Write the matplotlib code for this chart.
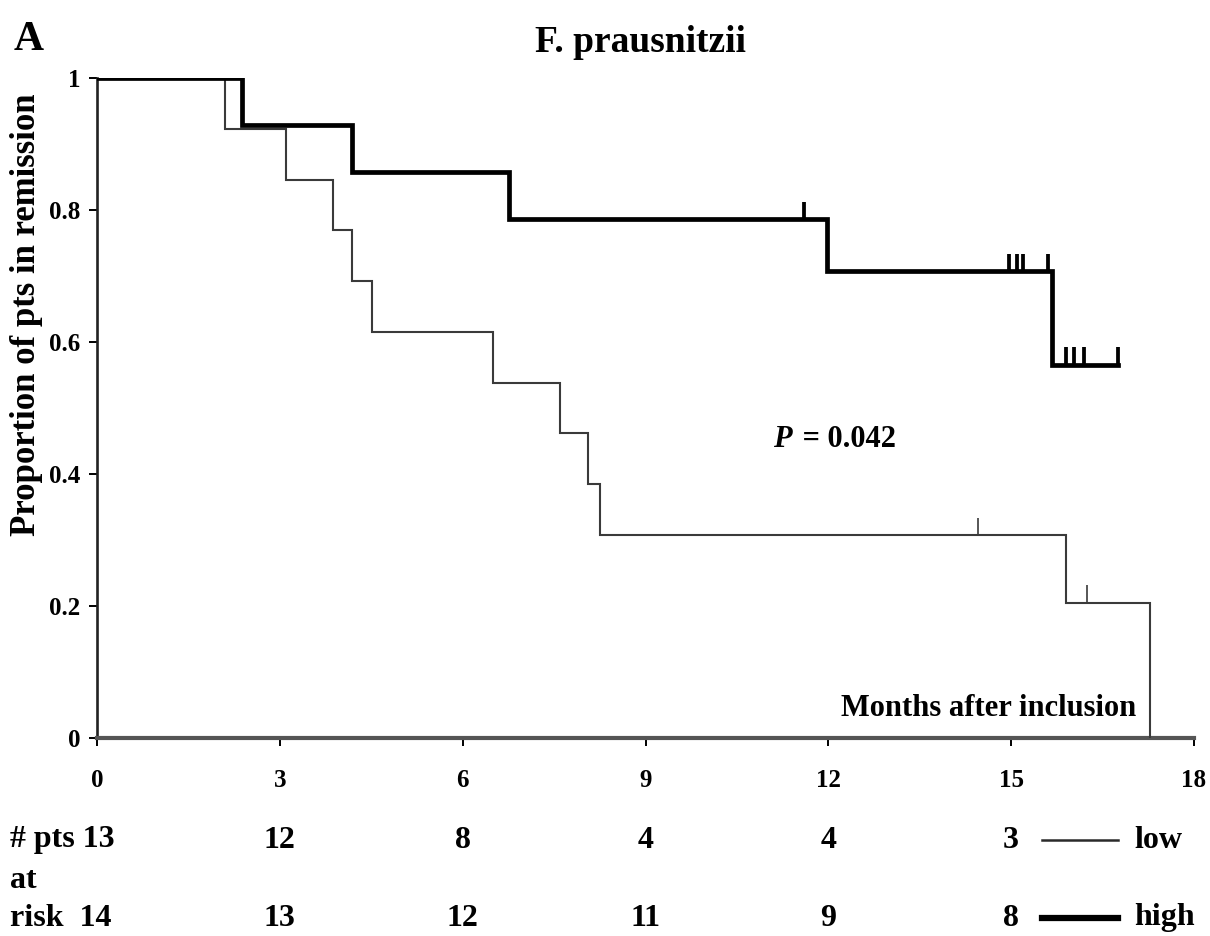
import numpy as np
import matplotlib
matplotlib.use("Agg")
import matplotlib.pyplot as plt
from matplotlib.lines import Line2D
from matplotlib.transforms import blended_transform_factory

plt.rcParams['font.family'] = ['Liberation Serif', 'DejaVu Serif']
plt.rcParams['font.weight'] = 'bold'

# Follow-up (months) and status (1 = relapse, 0 = censored)
low_times = [2.1, 3.1, 3.88, 4.19, 4.52, 6.5, 7.6, 8.06, 8.26, 14.45, 15.9, 16.25, 17.27]
low_events = [1, 1, 1, 1, 1, 1, 1, 1, 1, 0, 1, 0, 1]
high_times = [2.38, 4.19, 6.76, 11.6, 11.98, 14.97, 15.1, 15.2, 15.6, 15.67, 15.9, 16.03, 16.2, 16.76]
high_events = [1, 1, 1, 0, 1, 0, 0, 0, 0, 1, 0, 0, 0, 0]

risk_months = [0, 3, 6, 9, 12, 15]
risk_low = [13, 12, 8, 4, 4, 3]
risk_high = [14, 13, 12, 11, 9, 8]

x_ticks = [0, 3, 6, 9, 12, 15, 18]
y_ticks = [0, 0.2, 0.4, 0.6, 0.8, 1]
y_ticklabels = ['0', '0.2', '0.4', '0.6', '0.8', '1']


def kaplan_meier(times, events):
    order = np.argsort(times)
    t = np.asarray(times, float)[order]
    e = np.asarray(events, int)[order]
    n = len(t)
    s = 1.0
    step_t, step_s = [0.0], [1.0]
    cens_t, cens_s = [], []
    for i, (ti, ei) in enumerate(zip(t, e)):
        at_risk = n - i
        if ei:
            s *= (at_risk - 1) / at_risk
            step_t.append(ti)
            step_s.append(s)
        else:
            cens_t.append(ti)
            cens_s.append(s)
    step_t.append(t[-1])
    step_s.append(s)
    return np.array(step_t), np.array(step_s), np.array(cens_t), np.array(cens_s)


W, H = 1210, 936
fig = plt.figure(figsize=(W / 100, H / 100), dpi=100)
ax = fig.add_axes([97 / W, 1 - 738 / H, (1194 - 97) / W, (738 - 78) / H])

groups = [
    (low_times, low_events, '#3a3a3a', 1.5, 0.026),
    (high_times, high_events, 'black', 3.4, 0.026),
]
for times, events, color, lw, tick_h in groups:
    st, ss, ct, cs = kaplan_meier(times, events)
    ax.step(st, ss, where='post', color=color, lw=lw, solid_joinstyle='miter', zorder=3)
    ax.vlines(ct, cs, cs + tick_h, color=color, lw=lw * 0.8, zorder=3)

ax.set_xlim(0, 18)
ax.set_ylim(0, 1)
ax.set_xticks(x_ticks)
ax.set_xticklabels([str(v) for v in x_ticks])
ax.set_yticks(y_ticks)
ax.set_yticklabels(y_ticklabels)
for sp in ['top', 'right']:
    ax.spines[sp].set_visible(False)
ax.spines['left'].set_linewidth(1.9)
ax.spines['left'].set_color('#222222')
ax.spines['bottom'].set_linewidth(3.0)
ax.spines['bottom'].set_color('#555555')
ax.tick_params(axis='x', direction='out', length=6, width=1.4, pad=16, labelsize=18)
ax.tick_params(axis='y', direction='out', length=6, width=1.4, pad=6, labelsize=18)
for lab in ax.get_xticklabels() + ax.get_yticklabels():
    lab.set_fontweight('bold')

fig.text(640 / W, 1 - 42 / H, 'F. prausnitzii', fontsize=27, fontweight='bold',
         ha='center', va='center')
fig.text(14 / W, 1 - 40 / H, 'A', fontsize=30, fontweight='bold', ha='left', va='center')
fig.text(27 / W, 1 - 315 / H, 'Proportion of pts in remission', rotation=90, fontsize=25,
         fontweight='bold', ha='center', va='center')

ax.text(11.4, 0.452, 'P', fontsize=22, fontweight='bold', style='italic',
        ha='right', va='center')
ax.text(11.45, 0.452, ' = 0.042', fontsize=22, fontweight='bold',
        ha='left', va='center')
ax.text(17.05, 0.045, 'Months after inclusion', fontsize=22, fontweight='bold',
        ha='right', va='center')

# Number at risk table
tr = blended_transform_factory(ax.transData, fig.transFigure)
y_low, y_at, y_high = 1 - 840 / H, 1 - 880 / H, 1 - 918 / H
fs = 23
fig.text(10 / W, y_low, '# pts %d' % risk_low[0], fontsize=fs, fontweight='bold',
         ha='left', va='center')
fig.text(10 / W, y_at, 'at', fontsize=fs, fontweight='bold', ha='left', va='center')
fig.text(10 / W, y_high, 'risk  %d' % risk_high[0], fontsize=fs, fontweight='bold',
         ha='left', va='center')
for m, nl, nh in list(zip(risk_months, risk_low, risk_high))[1:]:
    ax.text(m, y_low, str(nl), transform=tr, fontsize=fs, fontweight='bold',
            ha='center', va='center')
    ax.text(m, y_high, str(nh), transform=tr, fontsize=fs, fontweight='bold',
            ha='center', va='center')

fig.add_artist(Line2D([1042 / W, 1118 / W], [y_low, y_low], color='#2a2a2a', lw=1.8))
fig.add_artist(Line2D([1042 / W, 1118 / W], [y_high, y_high], color='black', lw=4.5))
fig.text(1134 / W, y_low, 'low', fontsize=fs, fontweight='bold', ha='left', va='center')
fig.text(1134 / W, y_high, 'high', fontsize=fs, fontweight='bold', ha='left', va='center')

fig.savefig('out.png', dpi=100, facecolor='white')
